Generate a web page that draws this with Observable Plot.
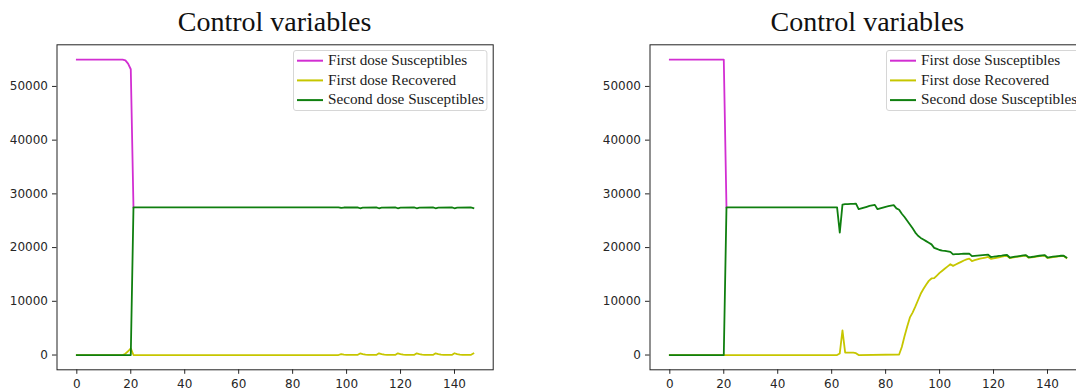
<!DOCTYPE html>
<html>
<head>
<meta charset="utf-8">
<script src="https://cdn.jsdelivr.net/npm/d3@7"></script>
<script src="https://cdn.jsdelivr.net/npm/@observablehq/plot@0.6"></script>
<style>
  html, body { margin: 0; padding: 0; background: #fff; }
  #wrap { position: relative; width: 1076px; height: 392px; overflow: hidden; background: #fff; }
  .panel { position: absolute; top: 0; width: 540px; height: 392px; }
  .panel svg.plot { position: absolute; left: 0; top: 0; }
  .title { position: absolute; top: 8px; left: 56.5px; width: 436.2px; text-align: center;
           font-family: "Liberation Serif", "DejaVu Serif", serif; font-size: 28px; line-height: 28px; color: #111; white-space: nowrap; }
  .legend { position: absolute; left: 293.3px; top: 50px; }
</style>
</head>
<body>
<div id="wrap"></div>
<script>
// ---- shared texts & ticks ----
const titleText = "Control variables";
const seriesNames = ["First dose Susceptibles", "First dose Recovered", "Second dose Susceptibles"];
const seriesColors = ["#d22ed2", "#c6c600", "#0f7f0f"];
const xTicks = [0, 20, 40, 60, 80, 100, 120, 140];
const yTicks = [0, 10000, 20000, 30000, 40000, 50000];

// ---- left panel: [day, value] breakpoints ----
const leftFirstS = [[0,55000],[17,55000],[18,54850],[19,54250],[20,53200],[21,27500]];
const leftFirstR = [[0,0],[17,0],[18,250],[19,700],[20,1250],[21,0],[97,0],[98,180],[99,90],[100,30],[104,20],
  [105,300],[106,170],[107,70],[108,30],[111,20],[112,320],[113,180],[114,70],[115,30],[118,20],
  [119,320],[120,180],[121,70],[122,30],[125,20],[126,320],[127,180],[128,70],[129,30],[132,20],
  [133,320],[134,180],[135,70],[136,30],[139,20],[140,330],[141,180],[142,70],[143,30],[146,20],[147,300]];
const leftSecondS = [[0,0],[20,0],[21,27500],[97,27500],[98,27380],[99,27460],[104,27500],[105,27320],[106,27440],
  [111,27500],[112,27320],[113,27440],[118,27500],[119,27320],[120,27440],[125,27500],[126,27320],[127,27440],
  [132,27500],[133,27320],[134,27440],[139,27500],[140,27320],[141,27440],[146,27500],[147,27350]];

// ---- right panel: [day, value] breakpoints ----
const rightFirstS = [[0,55000],[20,55000],[21,27500]];
const rightFirstR = [[0,0],[62,0],[63,300],[64,4600],[65,450],[68,450],[69,350],[70,0],[85,100],
  [86,1500],[87,3500],[88,5300],[89,7000],[90,7900],[91,9000],[92,10200],[93,11400],[94,12300],[95,13100],
  [96,13800],[97,14250],[98,14300],[99,14800],[100,15300],[101,15700],[102,16100],[103,16500],[104,16900],
  [105,16600],[106,16850],[107,17100],[108,17350],[109,17600],[110,17800],[111,17950],[112,17500],[113,17650],
  [114,17800],[115,17950],[116,18050],[117,18150],[118,18250],[119,17900],[120,18000],[121,18100],[122,18200],
  [123,18300],[124,18400],[125,18450],[126,18050],[127,18150],[128,18220],[129,18300],[130,18370],[131,18450],
  [132,18520],[133,18120],[134,18170],[135,18250],[136,18320],[137,18400],[138,18470],[139,18520],[140,18070],
  [141,18150],[142,18220],[143,18290],[144,18350],[145,18400],[146,18420],[147,18070]];
const rightSecondS = [[0,0],[20,0],[21,27500],[62,27500],[63,22800],[64,28000],[65,28100],[66,28100],[67,28150],
  [68,28150],[69,28200],[70,27150],[71,27300],[72,27450],[73,27600],[74,27750],[75,27850],[76,27950],[77,27150],
  [78,27300],[79,27450],[80,27600],[81,27700],[82,27800],[83,27900],[84,27300],[85,27050],[86,26300],[87,25700],
  [88,25000],[89,24300],[90,23600],[91,22800],[92,22200],[93,21800],[94,21500],[95,21200],[96,20900],[97,20600],
  [98,19950],[99,19750],[100,19550],[101,19450],[102,19400],[103,19300],[104,19200],[105,18750],[106,18800],
  [107,18800],[108,18820],[109,18850],[110,18850],[111,18870],[112,18400],[113,18450],[114,18500],[115,18550],
  [116,18600],[117,18650],[118,18680],[119,18250],[120,18300],[121,18380],[122,18450],[123,18500],[124,18580],
  [125,18620],[126,18150],[127,18230],[128,18300],[129,18380],[130,18450],[131,18530],[132,18600],[133,18200],
  [134,18250],[135,18330],[136,18400],[137,18480],[138,18550],[139,18600],[140,18150],[141,18230],[142,18300],
  [143,18370],[144,18430],[145,18480],[146,18500],[147,18150]];

const fmt = d => String(d);

function makePanel(left, seriesData) {
  const panel = document.createElement("div");
  panel.className = "panel";
  panel.style.left = left + "px";

  const chart = Plot.plot({
    width: 540, height: 392,
    marginLeft: 56.5, marginRight: 47.3, marginTop: 44.3, marginBottom: 22.7,
    style: { fontFamily: "'DejaVu Sans', sans-serif", fontSize: "12px", color: "#262626", background: "transparent" },
    x: { domain: [-7.35, 154.35], ticks: xTicks, tickFormat: fmt, tickSize: 4.5, tickPadding: 5, label: null },
    y: { domain: [-2750, 57750], ticks: yTicks, tickFormat: fmt, tickSize: 4.5, tickPadding: 4.5, label: null },
    marks: [
      ...seriesData.map((data, i) => Plot.line(data, {
        x: d => d[0], y: d => d[1], stroke: seriesColors[i], strokeWidth: 1.8,
        strokeLinejoin: "round", strokeLinecap: "square"
      })),
      Plot.frame({ stroke: "#222", strokeWidth: 1 })
    ]
  });
  chart.classList.add("plot");
  panel.appendChild(chart);

  const title = document.createElement("div");
  title.className = "title";
  title.textContent = titleText;
  panel.appendChild(title);

  // legend box
  const ns = "http://www.w3.org/2000/svg";
  const lg = document.createElementNS(ns, "svg");
  lg.setAttribute("class", "legend");
  lg.setAttribute("width", 194.4);
  lg.setAttribute("height", 61);
  const box = document.createElementNS(ns, "rect");
  box.setAttribute("x", 0.5); box.setAttribute("y", 0.5);
  box.setAttribute("width", 193.4); box.setAttribute("height", 60);
  box.setAttribute("rx", 2.5);
  box.setAttribute("fill", "rgba(255,255,255,0.8)");
  box.setAttribute("stroke", "#d6d6d6");
  lg.appendChild(box);
  seriesNames.forEach((name, i) => {
    const cy = 10.7 + 19.7 * i;
    const ln = document.createElementNS(ns, "line");
    ln.setAttribute("x1", 4); ln.setAttribute("x2", 30);
    ln.setAttribute("y1", cy); ln.setAttribute("y2", cy);
    ln.setAttribute("stroke", seriesColors[i]); ln.setAttribute("stroke-width", 2);
    lg.appendChild(ln);
    const tx = document.createElementNS(ns, "text");
    tx.setAttribute("x", 35); tx.setAttribute("y", cy + 4.3);
    tx.setAttribute("font-family", "'Liberation Serif', serif");
    tx.setAttribute("font-size", "15.2px");
    tx.setAttribute("fill", "#1a1a1a");
    tx.textContent = name;
    lg.appendChild(tx);
  });
  panel.appendChild(lg);
  return panel;
}

const wrap = document.getElementById("wrap");
wrap.appendChild(makePanel(0, [leftFirstS, leftFirstR, leftSecondS]));
wrap.appendChild(makePanel(592.8, [rightFirstS, rightFirstR, rightSecondS]));
</script>
</body>
</html>
